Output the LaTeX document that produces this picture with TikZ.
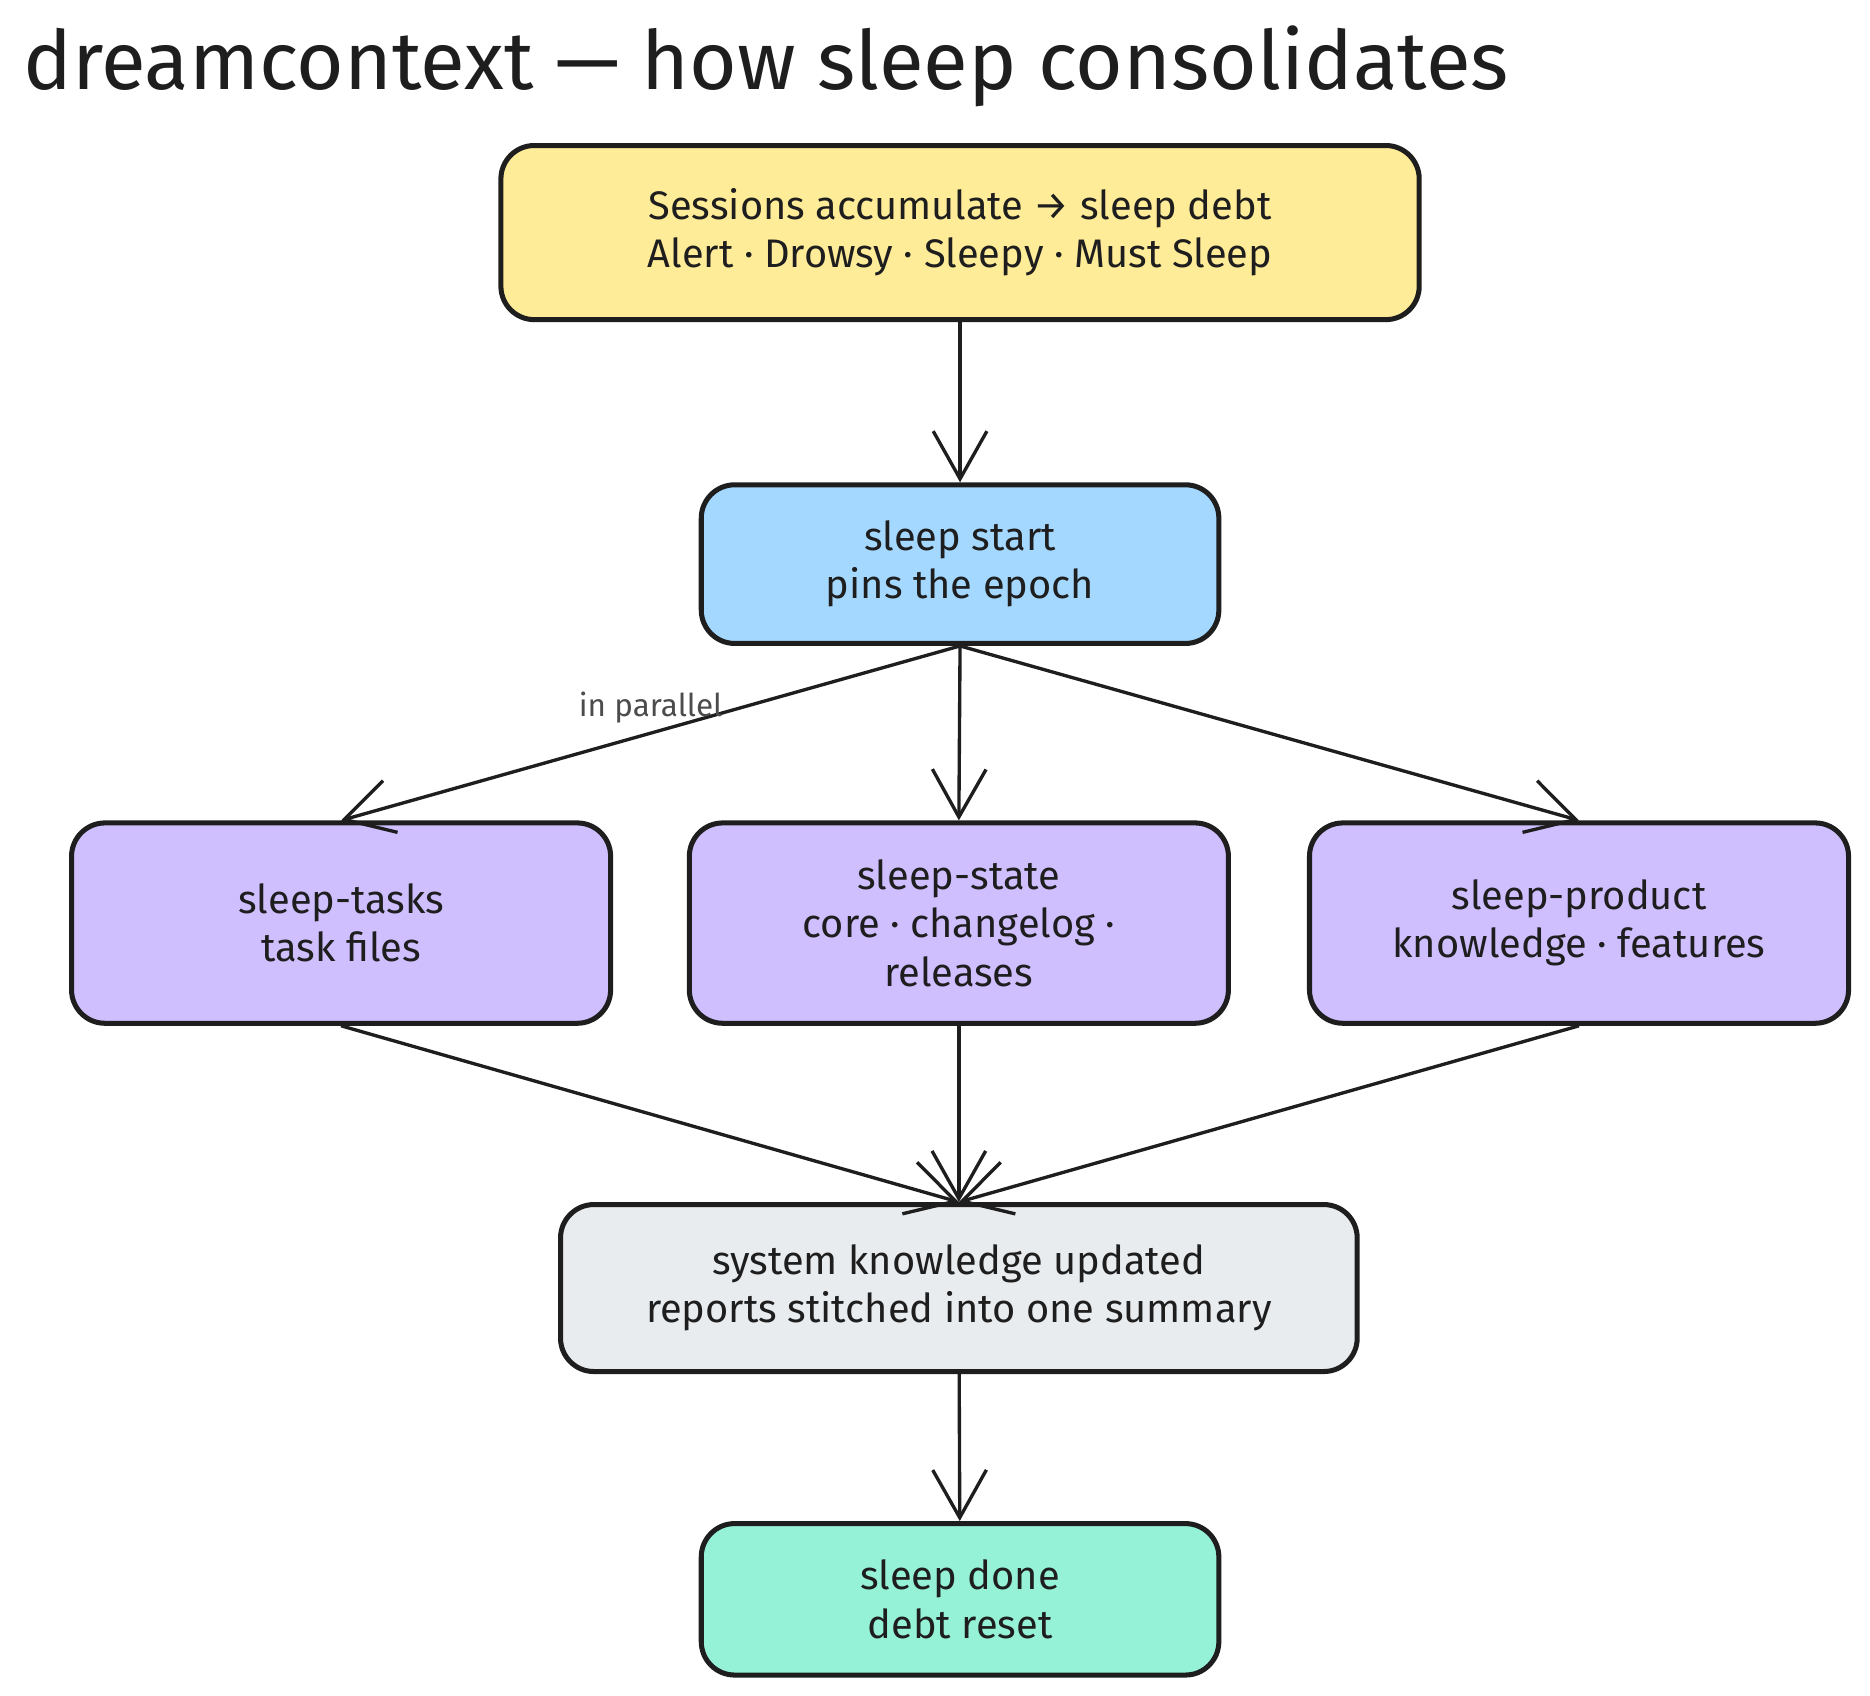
\documentclass[tikz,border=0pt]{standalone}
\usepackage{fontspec}
\setmainfont{Fira Sans}
\usepackage{tikz}
\usetikzlibrary{arrows.meta}
\definecolor{cyellow}{HTML}{FFEC99}
\definecolor{cblue}{HTML}{A5D8FF}
\definecolor{cpurple}{HTML}{D0BFFF}
\definecolor{cgray}{HTML}{E9ECEF}
\definecolor{cgreen}{HTML}{96F2D7}
\definecolor{cink}{HTML}{1E1E1E}

\begin{document}
\begin{tikzpicture}[-{Straight Barb[length=4mm,width=4.5mm]},thick,cink,
  box/.style={rectangle,rounded corners=0.28cm,draw=cink,very thick,align=center,
    font=\fontsize{9.5}{11.5}\selectfont,inner sep=0pt},
  task node/.style={box,fill=cpurple,minimum width=4.52cm,minimum height=1.68cm}]
  \useasboundingbox (0,0) rectangle (15.68,-14.22);
  \node[anchor=base west,font=\fontsize{19.5}{23}\selectfont,inner sep=0pt] (title) at (0.18,-0.75) {dreamcontext — how sleep consolidates};
  \node[box,fill=cyellow,minimum width=7.7cm,minimum height=1.46cm] (1) at (8.05,-1.95)
    {Sessions accumulate → sleep debt\\Alert · Drowsy · Sleepy · Must Sleep};
  \node[box,fill=cblue,minimum width=4.34cm,minimum height=1.33cm] (2) at (8.05,-4.73)
    {sleep start\\pins the epoch};
  \node[task node] (3) at (2.86,-7.74) {sleep-tasks\\task files};
  \node[task node] (4) at (8.04,-7.74) {sleep-state\\core · changelog ·\\releases};
  \node[task node] (5) at (13.24,-7.74) {sleep-product\\knowledge · features};
  \node[box,fill=cgray,minimum width=6.68cm,minimum height=1.4cm] (6) at (8.04,-10.8)
    {system knowledge updated\\reports stitched into one summary};
  \node[box,fill=cgreen,minimum width=4.34cm,minimum height=1.27cm] (7) at (8.05,-13.41)
    {sleep done\\debt reset};

  \draw (1) -- (2);
  \draw (2.south) -- node[pos=0.5,above,inner sep=2pt,font=\fontsize{7.5}{9}\selectfont,text=black!70]{in parallel} (3.north);
  \draw (2.south) -- (4.north);
  \draw (2.south) -- (5.north);
  \draw (3.south) -- (6.north);
  \draw (4.south) -- (6.north);
  \draw (5.south) -- (6.north);
  \draw (6) -- (7);
\end{tikzpicture}
\end{document}
